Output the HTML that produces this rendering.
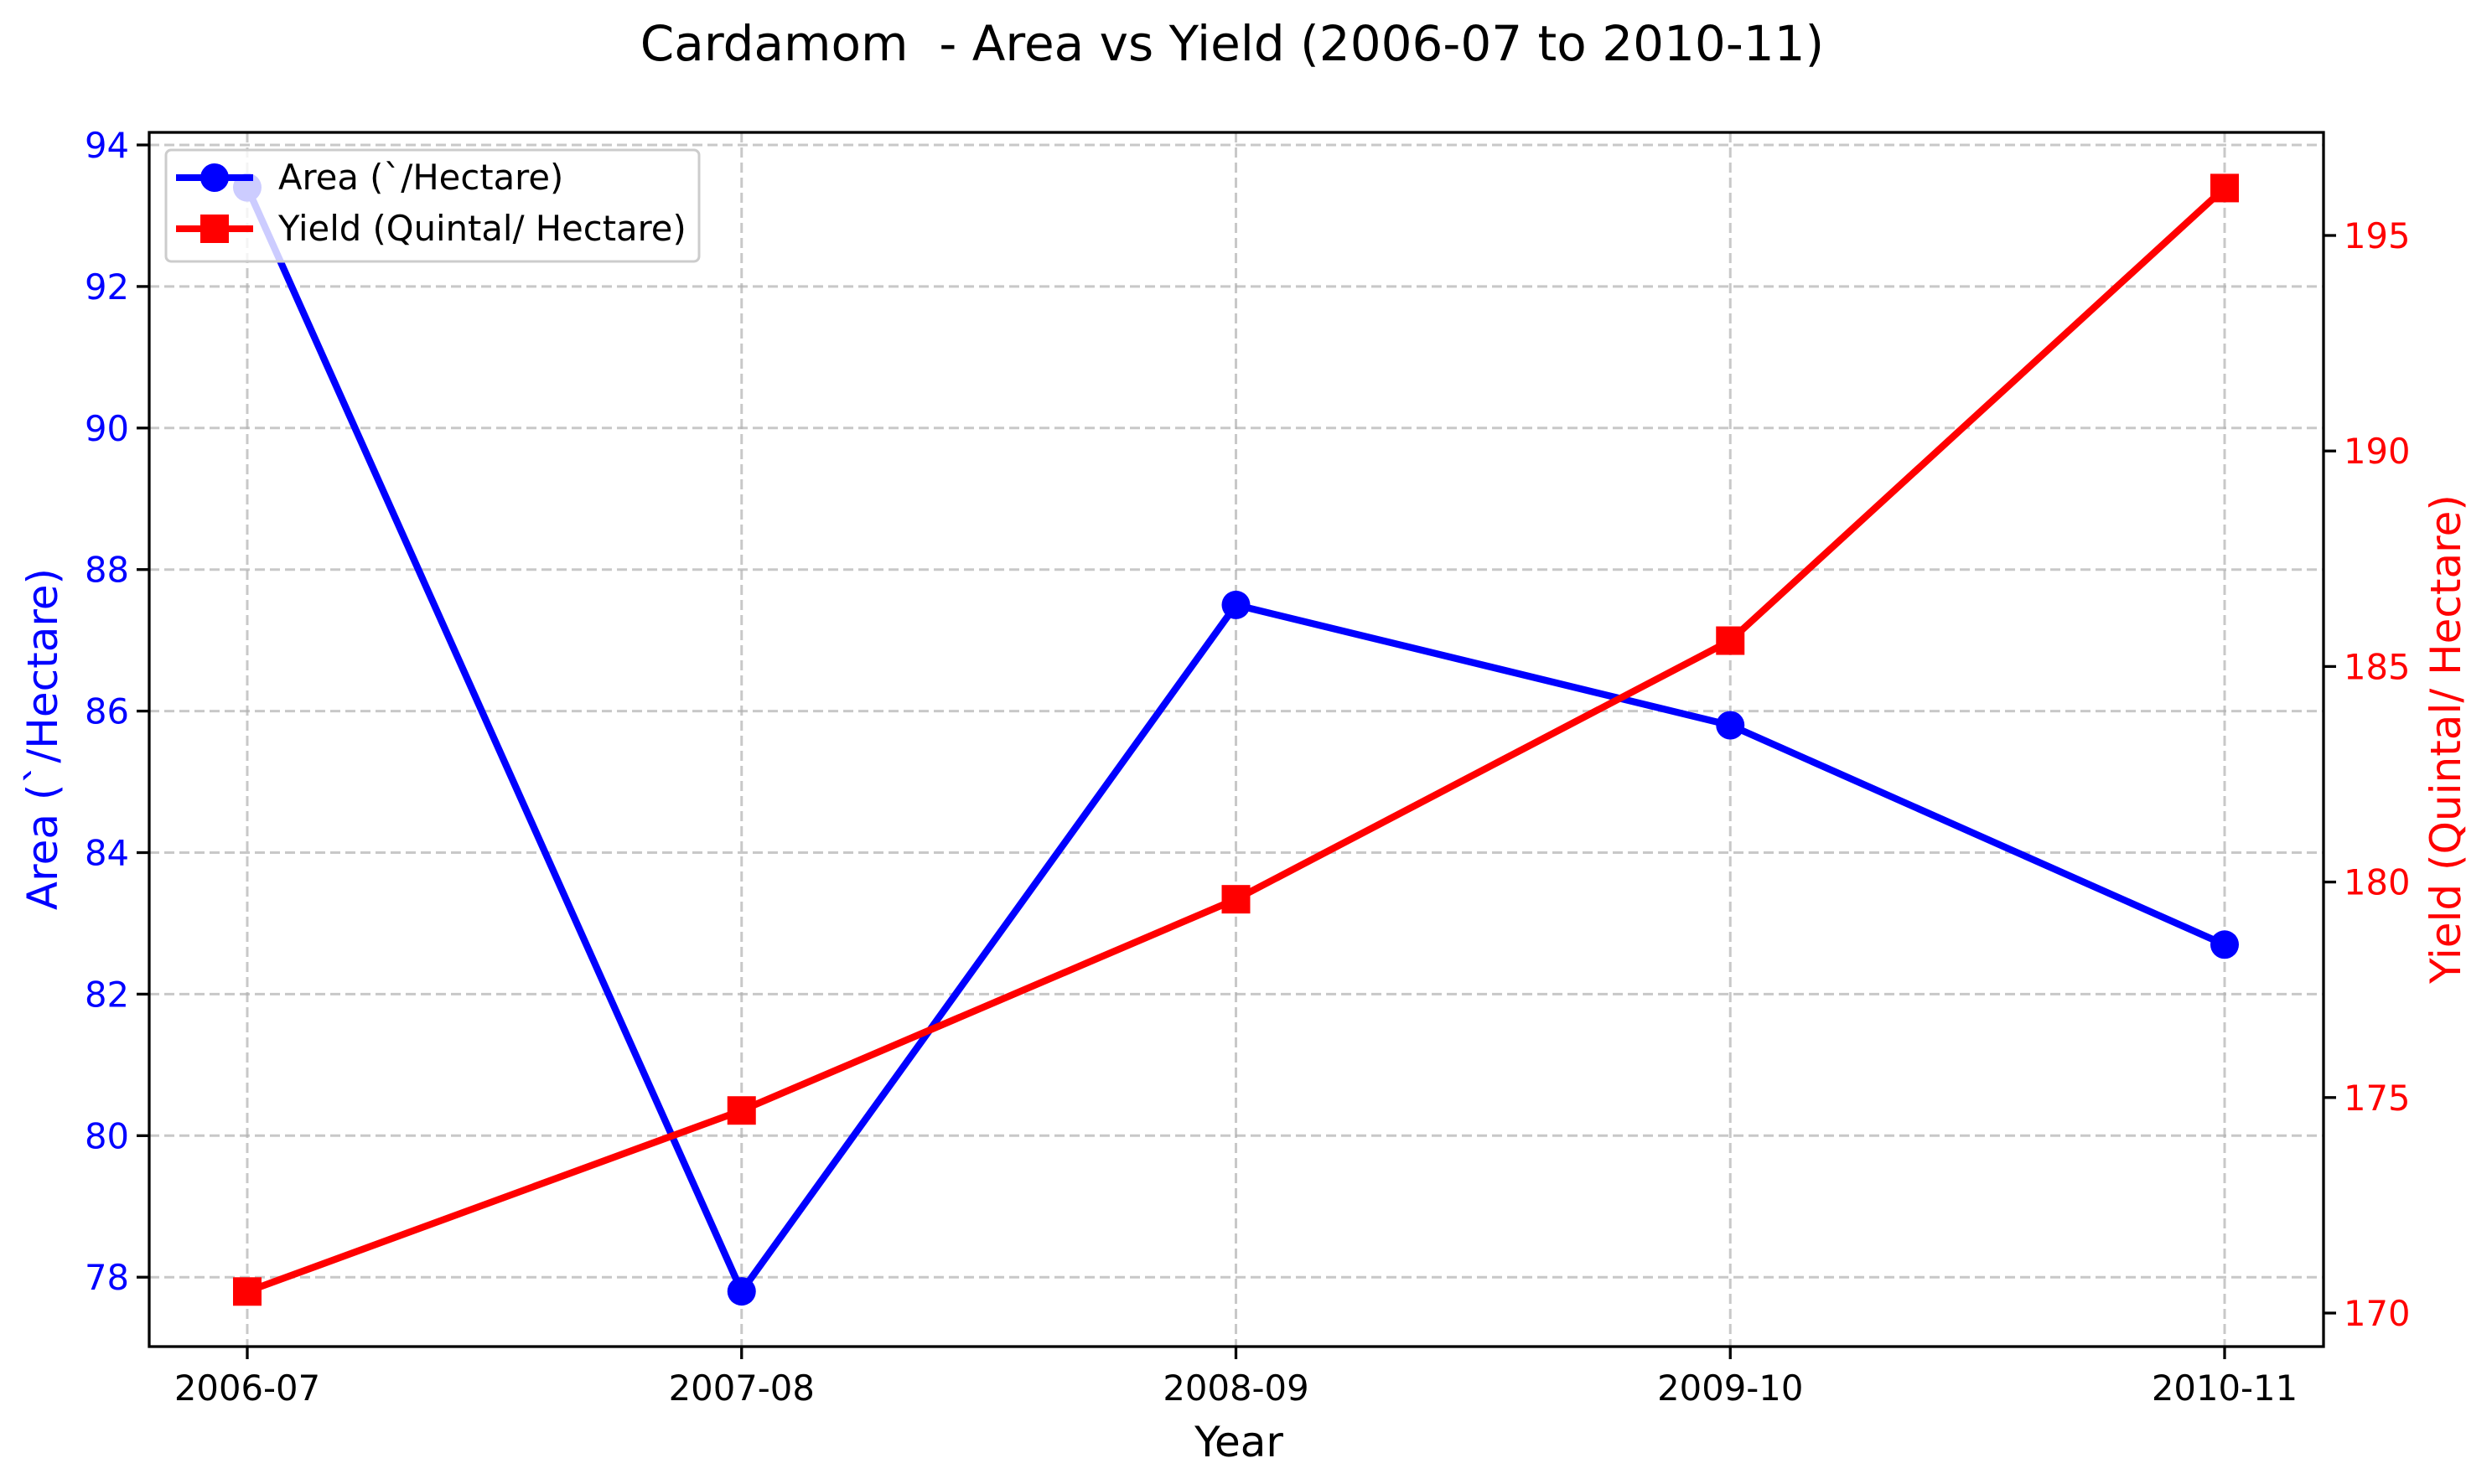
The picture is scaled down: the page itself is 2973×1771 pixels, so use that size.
<!DOCTYPE html>
<html><head><meta charset="utf-8"><style>
html,body{margin:0;padding:0;background:#fff;}
svg{display:block;font-family:"DejaVu Sans","Liberation Sans",sans-serif;}
</style></head><body>
<svg id="chart" width="2973" height="1771" viewBox="0 0 2973 1771" xmlns="http://www.w3.org/2000/svg">
<rect width="2973" height="1771" fill="#fff"/>
<text x="1470" y="72" font-size="58" text-anchor="middle">Cardamom &#160;- Area vs Yield (2006-07 to 2010-11)</text>
<g id="grid"></g>
<g id="series"></g>
<rect x="178" y="158" width="2594" height="1449" fill="none" stroke="#000" stroke-width="3.3"/>
<g id="axes"></g>
<text x="1478" y="1738" font-size="50" text-anchor="middle">Year</text>
<text transform="translate(68,882) rotate(-90)" font-size="50" text-anchor="middle" fill="#0000ff">Area (`/Hectare)</text>
<text transform="translate(2935,882) rotate(-90)" font-size="50" text-anchor="middle" fill="#ff0000">Yield (Quintal/ Hectare)</text>
<g>
<rect x="198" y="179" width="636" height="133" rx="6" fill="#fff" fill-opacity="0.8" stroke="#ccc" stroke-width="3"/>
<g>
<line x1="210" y1="212" x2="302" y2="212" stroke="#0000ff" stroke-width="8"/>
<circle cx="256" cy="212" r="17" fill="#0000ff"/>
<text x="332" y="226" font-size="41.7">Area (`/Hectare)</text>
</g>
<g>
<line x1="210" y1="273" x2="302" y2="273" stroke="#ff0000" stroke-width="8"/>
<rect x="239" y="256" width="34" height="34" fill="#ff0000"/>
<text x="332" y="287" font-size="41.7">Yield (Quintal/ Hectare)</text>
</g>
</g>
</svg>
<script>
const categories = ["2006-07","2007-08","2008-09","2009-10","2010-11"];
const areaValues = [93.4, 77.8, 87.5, 85.8, 82.7];
const yieldValues = [170.5, 174.7, 179.6, 185.6, 196.1];
const areaTicks = [78, 80, 82, 84, 86, 88, 90, 92, 94];
const yieldTicks = [170, 175, 180, 185, 190, 195];

const NS = "http://www.w3.org/2000/svg";
const L = 178, R = 2772, T = 158, B = 1607;
function xPos(i){ return 295 + i * 589.75; }
function yArea(v){ return 173 + (94 - v) * 84.45; }
function yYield(v){ return 1567 - (v - 170) * 51.44; }
function mk(tag, attrs, parent){
  const e = document.createElementNS(NS, tag);
  for (const k in attrs) e.setAttribute(k, attrs[k]);
  parent.appendChild(e); return e;
}
const grid = document.getElementById('grid');
const axes = document.getElementById('axes');
const series = document.getElementById('series');
const gs = {stroke:"#b0b0b0","stroke-opacity":"0.7","stroke-width":"3","stroke-dasharray":"12,6"};

categories.forEach((c, i) => {
  const x = xPos(i);
  const g = mk('line', Object.assign({x1:x, y1:T, x2:x, y2:B}, gs), grid);
  
  
  const t = mk('line', {x1:x, y1:B, x2:x, y2:B+15, stroke:"#000","stroke-width":"3.3"}, axes);
  
  
  const lb = mk('text', {x:x, y:B+64, "font-size":"41.7","text-anchor":"middle"}, axes);
  lb.textContent = c;
  
  
});
areaTicks.forEach(v => {
  const y = yArea(v);
  const g = mk('line', Object.assign({x1:L, y1:y, x2:R, y2:y}, gs), grid);
  
  
  const t = mk('line', {x1:L-15, y1:y, x2:L, y2:y, stroke:"#000","stroke-width":"3.3"}, axes);
  
  
  const lb = mk('text', {x:L-24, y:y+15, "font-size":"41.7","text-anchor":"end", fill:"#0000ff"}, axes);
  lb.textContent = v;
  
  
});
yieldTicks.forEach(v => {
  const y = yYield(v);
  const t = mk('line', {x1:R, y1:y, x2:R+15, y2:y, stroke:"#000","stroke-width":"3.3"}, axes);
  
  
  const lb = mk('text', {x:R+24, y:y+15, "font-size":"41.7", fill:"#ff0000"}, axes);
  lb.textContent = v;
  
  
});
const ap = mk('polyline', {points: areaValues.map((v,i)=>xPos(i)+","+yArea(v)).join(" "), fill:"none", stroke:"#0000ff","stroke-width":"8.3","stroke-linejoin":"round"}, series);


areaValues.forEach((v,i) => {
  const c = mk('circle', {cx:xPos(i), cy:yArea(v), r:"17", fill:"#0000ff"}, series);
  
  
});
const yp = mk('polyline', {points: yieldValues.map((v,i)=>xPos(i)+","+yYield(v)).join(" "), fill:"none", stroke:"#ff0000","stroke-width":"8.3","stroke-linejoin":"round"}, series);


yieldValues.forEach((v,i) => {
  const r = mk('rect', {x:xPos(i)-17, y:yYield(v)-17, width:"34", height:"34", fill:"#ff0000"}, series);
  
  
});
</script>
</body></html>
